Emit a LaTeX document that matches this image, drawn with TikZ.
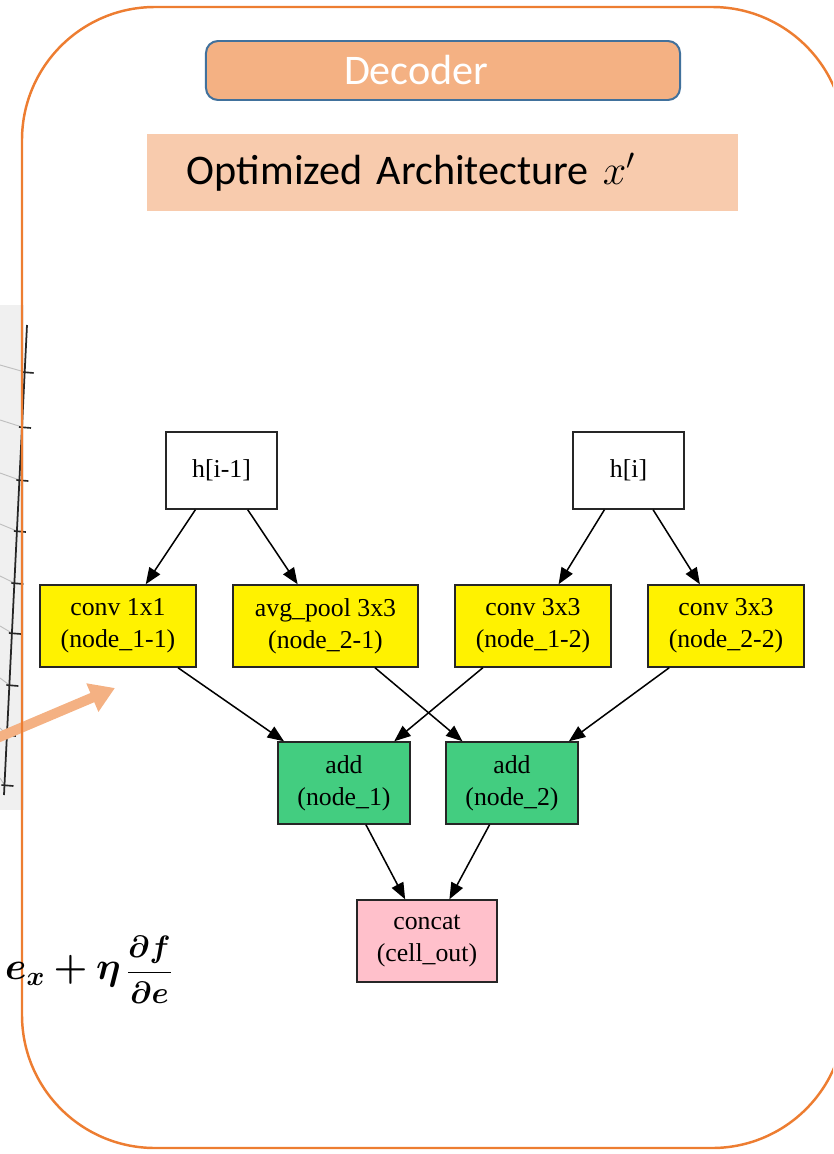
\RequirePackage{fix-cm}
\documentclass[tikz,border=0pt]{standalone}
\usepackage{amsmath}
\usepackage{bm}
\usepackage{graphicx}
\usepackage{fontspec}
\setmainfont{Liberation Serif}
\newfontfamily\calibri{Carlito}
\usetikzlibrary{arrows.meta}

\definecolor{frameorange}{HTML}{ED7D31}
\definecolor{decfill}{HTML}{F4B183}
\definecolor{decdraw}{HTML}{41719C}
\definecolor{titlefill}{HTML}{F8CBAD}
\definecolor{opgreen}{HTML}{43CD80}
\definecolor{outpink}{HTML}{FFC0CB}

\newcommand\updaterule{$\bm{e_x+\eta}\,\vcenter{\hbox{\scalebox{0.8}{$\displaystyle\bm{\frac{\partial f}{\partial e}}$}}}$}

\begin{document}
\begin{tikzpicture}[x=0.03cm,y=-0.03cm,>={Triangle[length=14pt,width=11pt]},
  box/.style={draw=black!85,line width=1.2pt,align=center,inner sep=0pt,
    minimum height=2.46cm,font=\fontsize{22}{27}\selectfont},
  inbox/.style={box,fill=white,minimum width=3.33cm,minimum height=2.31cm},
  opbox/.style={box,fill=yellow,minimum width=4.68cm},
  addbox/.style={box,fill=opgreen,minimum width=3.96cm},
  outbox/.style={box,fill=outpink,minimum width=4.2cm}]

  \useasboundingbox (0,0) rectangle (833,1154);
  \clip (0,0) rectangle (833,1154);

  % scrap of the plot on the left
  \fill[black!6] (0,305) rectangle (24,810);
  \foreach \ty in {372,427,480,531,583,633,685,735,785}
    \draw[black!25,line width=0.8pt] (0,\ty-7) -- ({27-(\ty-325)*0.049},\ty);
  \draw[black!85,line width=1.5pt] (27,325) -- (4,795);
  \foreach \ty in {372,427,480,531,583,633,685,735,785}
    \draw[black!85,line width=1.4pt] ({24-(\ty-325)*0.049},\ty) -- ++(12,1);

  % arrow into the decoder
  \coordinate (arrowtail) at (-10,741);
  \coordinate (arrowtip) at (115,688);
  \draw[decfill,line width=8.5pt,-{Triangle[length=21pt,width=25pt]}] (arrowtail) -- (arrowtip);

  % frame
  \draw[frameorange,line width=2.1pt,rounded corners=3.99cm] (22,7) rectangle (845,1148);

  \node[draw=decdraw,fill=decfill,line width=1.7pt,rounded corners=0.36cm,
    text width=5.94cm,inner xsep=4.14cm,minimum height=1.77cm,align=left,
    text=white,font=\calibri\fontsize{36}{40}\selectfont] (decoder) at (443,70.5) {Decoder};
  \node[fill=titlefill,text width=15.33cm,inner xsep=1.2cm,minimum height=2.31cm,
    align=left,font=\calibri\fontsize{36}{40}\selectfont] (title) at (442.5,172.5)
    {Optimized Architecture $x'$};

  \node[anchor=east,inner sep=0pt,font=\fontsize{33}{38}\selectfont] (update) at (172,970) {\updaterule};

  \node[inbox]  (hprev)   at (221.5,470.5) {h[i-1]};
  \node[inbox]  (hcur)    at (628.5,470.5) {h[i]};
  \node[opbox]  (op11)    at (118,626)     {conv 1x1\\(node\_1-1)};
  \node[opbox,minimum width=5.55cm] (op21) at (325.5,626) {avg\_pool 3x3\\(node\_2-1)};
  \node[opbox]  (op12)    at (533,626)     {conv 3x3\\(node\_1-2)};
  \node[opbox]  (op22)    at (726,626)     {conv 3x3\\(node\_2-2)};
  \node[addbox] (add1)    at (344,783)     {add\\(node\_1)};
  \node[addbox] (add2)    at (512,783)     {add\\(node\_2)};
  \node[outbox] (cellout) at (427,941)     {concat\\(cell\_out)};

  \path[->,line width=1.3pt]
            (hprev) edge (op11)
            (hprev) edge (op21)
            (hcur)  edge (op12)
            (hcur)  edge (op22)
            (op11)  edge (add1)
            (op12)  edge (add1)
            (op21)  edge (add2)
            (op22)  edge (add2)
            (add1)  edge (cellout)
            (add2)  edge (cellout);
\end{tikzpicture}
\end{document}
